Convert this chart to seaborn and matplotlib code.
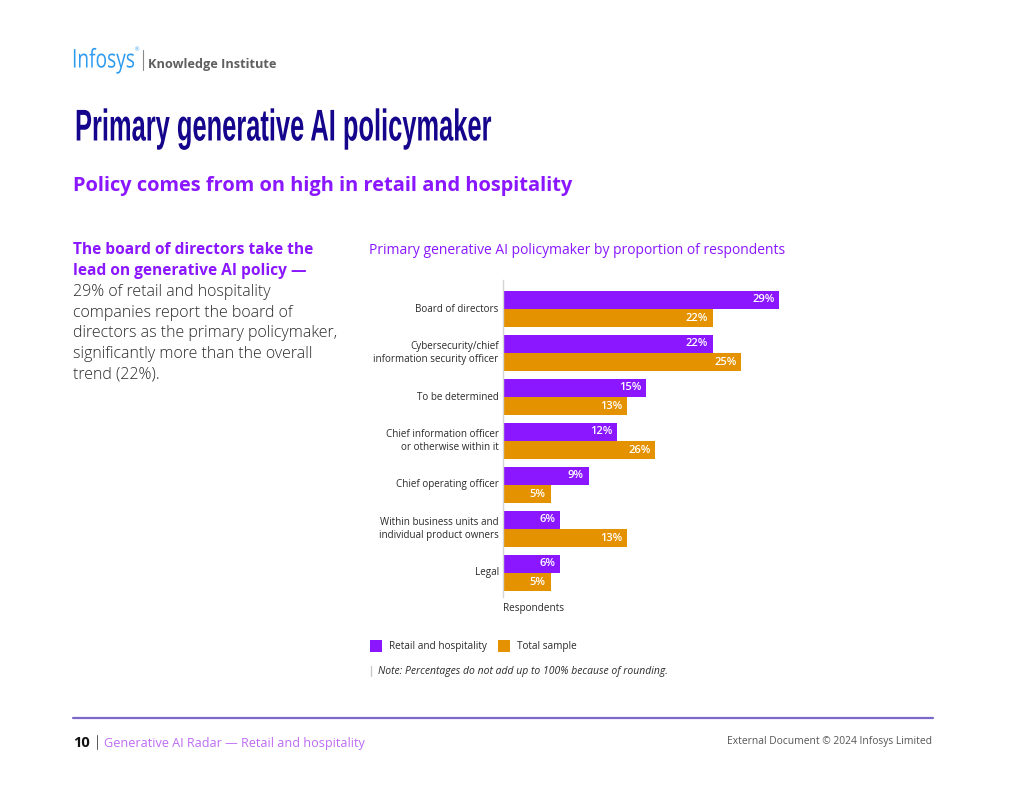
import pandas as pd
import numpy as np
import matplotlib.pyplot as plt
import matplotlib.patheffects as pe
from matplotlib.transforms import Affine2D
import seaborn as sns

W, H = 1024, 791

categories = [
    "Board of directors",
    "Cybersecurity/chief\ninformation security officer",
    "To be determined",
    "Chief information officer\nor otherwise within it",
    "Chief operating officer",
    "Within business units and\nindividual product owners",
    "Legal",
]
retail = [29, 22, 15, 12, 9, 6, 6]
# bar lengths as drawn in the source; its CIO bar is 16 long but printed as 26%
total = [22, 25, 13, 16, 5, 13, 5]
retail_labels = ["29%", "22%", "15%", "12%", "9%", "6%", "6%"]
total_labels = ["22%", "25%", "13%", "26%", "5%", "13%", "5%"]
series_names = ["Retail and hospitality", "Total sample"]

PURPLE = "#8A17FF"
ORANGE = "#E59200"
NAVY = "#14058C"
DARK = "#2B2B2B"

sns.set_theme(style="white")
plt.rcParams["font.family"] = ["Open Sans", "DejaVu Sans"]

df = pd.DataFrame({
    "category": categories * 2,
    "series": [series_names[0]] * len(categories) + [series_names[1]] * len(categories),
    "value": retail + total,
})

fig = plt.figure(figsize=(W / 100, H / 100), dpi=100, facecolor="white")


def put(x, y, s, **kw):
    # x, y in pixels from the top left of the page
    kw.setdefault("va", "center")
    return fig.text(x / W, 1 - y / H, s, **kw)


class Squeeze(pe.AbstractPathEffect):
    # narrows a text horizontally, no condensed font is installed
    def __init__(self, x0, factor):
        super().__init__()
        self.x0 = x0
        self.factor = factor

    def draw_path(self, renderer, gc, tpath, affine, rgbFace=None):
        squeeze = Affine2D().translate(-self.x0, 0).scale(self.factor, 1).translate(self.x0, 0)
        renderer.draw_path(gc, tpath, affine + squeeze, rgbFace)


def put_narrow(x, y, width, s, **kw):
    t = put(x, y, s, **kw)
    full = t.get_window_extent(fig.canvas.get_renderer()).width
    t.set_path_effects([Squeeze(x, width / full)])
    return t


# ── Chart ─────────────────────────
left, right, top, bottom = 502.8, 933, 280, 597
ax = fig.add_axes([left / W, 1 - bottom / H, (right - left) / W, (bottom - top) / H])
sns.barplot(
    data=df, x="value", y="category", hue="series",
    palette=[PURPLE, ORANGE], width=0.82, gap=0, saturation=1, linewidth=0, ax=ax,
)
ax.set_xlim(0, (right - left) / 9.54)
ax.set_ylim((bottom - 309) / 44, (top - 309) / 44)
for c, lab in zip(ax.containers, [retail_labels, total_labels]):
    texts = ax.bar_label(c, labels=lab, padding=-3.5, color="white", fontsize=8, fontweight="semibold")
    for t in texts:
        t.set_ha("right")

for side in ["top", "right", "bottom"]:
    ax.spines[side].set_visible(False)
ax.spines["left"].set_color("#D5D5D5")
ax.spines["left"].set_linewidth(1)
ax.set_xticks([])
ax.set_xlabel("")
ax.set_ylabel("")
ax.tick_params(axis="y", length=0, pad=3, labelsize=7.15, labelcolor=DARK)
for t in ax.get_yticklabels():
    t.set_ha("right")
    t.set_va("center")
    t.set_multialignment("right")
    t.set_linespacing(1.15)

handles, labels = ax.get_legend_handles_labels()
ax.legend(
    handles, labels, ncol=2, frameon=False, fontsize=7.2, labelcolor=DARK,
    loc="center left", bbox_to_anchor=(361 / W, 1 - 646 / H), bbox_transform=fig.transFigure,
    handlelength=1.2, handleheight=1.45, handletextpad=0.7, columnspacing=1.1, borderpad=0.4,
)
put(503.5, 608.5, "Respondents", fontsize=7.2, color=DARK)
put(369, 250, "Primary generative AI policymaker by proportion of respondents",
    fontsize=10, color=PURPLE)

# note
fig.add_artist(plt.Line2D([370.5 / W] * 2, [1 - 665.5 / H, 1 - 676 / H], color="#C8C8C8", lw=1))
put(378, 671.5, "Note: Percentages do not add up to 100% because of rounding.",
    fontsize=7.5, color=DARK, style="italic")

# ── Header ────────────────────────
put_narrow(72, 61, 63, "Infosys", fontsize=18.5, color="#2F9BEF")
put(135, 50, "®", fontsize=4, color="#2F9BEF")
fig.add_artist(plt.Line2D([143 / W] * 2, [1 - 50 / H, 1 - 70 / H], color="#888888", lw=0.8))
put(147.5, 64.5, "Knowledge Institute", fontsize=9.15, color="#5F5F5F", fontweight="bold")

put_narrow(75, 129, 417, "Primary generative AI policymaker", fontsize=32, color=NAVY,
           family=["Liberation Sans", "DejaVu Sans"], fontweight="bold")
put(73, 186.5, "Policy comes from on high in retail and hospitality", fontsize=14.45,
    color=PURPLE, fontweight="bold")

# ── Left column ───────────────────
for i, line in enumerate(["The board of directors take the", "lead on generative AI policy —"]):
    put(73, 250.5 + i * 20.6, line, fontsize=11.2, color=PURPLE, fontweight="bold")
body = [
    "29% of retail and hospitality",
    "companies report the board of",
    "directors as the primary policymaker,",
    "significantly more than the overall",
    "trend (22%).",
]
for i, line in enumerate(body):
    put(73, 292 + i * 20.7, line, fontsize=11.5, color=DARK, fontweight="light")

# ── Footer ────────────────────────
fig.add_artist(plt.Line2D([73 / W, 933 / W], [1 - 717.5 / H] * 2, color="#7B68C8", lw=1.6))
put(73, 743, "10", fontsize=10.5, color="#111111", fontweight="bold")
fig.add_artist(plt.Line2D([96.5 / W] * 2, [1 - 735 / H, 1 - 749 / H], color="#555555", lw=0.7))
put(104, 743, "Generative AI Radar — Retail and hospitality", fontsize=9.05, color="#BE6BF5")
put(932, 741.5, "External Document © 2024 Infosys Limited", fontsize=7.35, color="#555555", ha="right")

fig.savefig("out.png", dpi=100)
